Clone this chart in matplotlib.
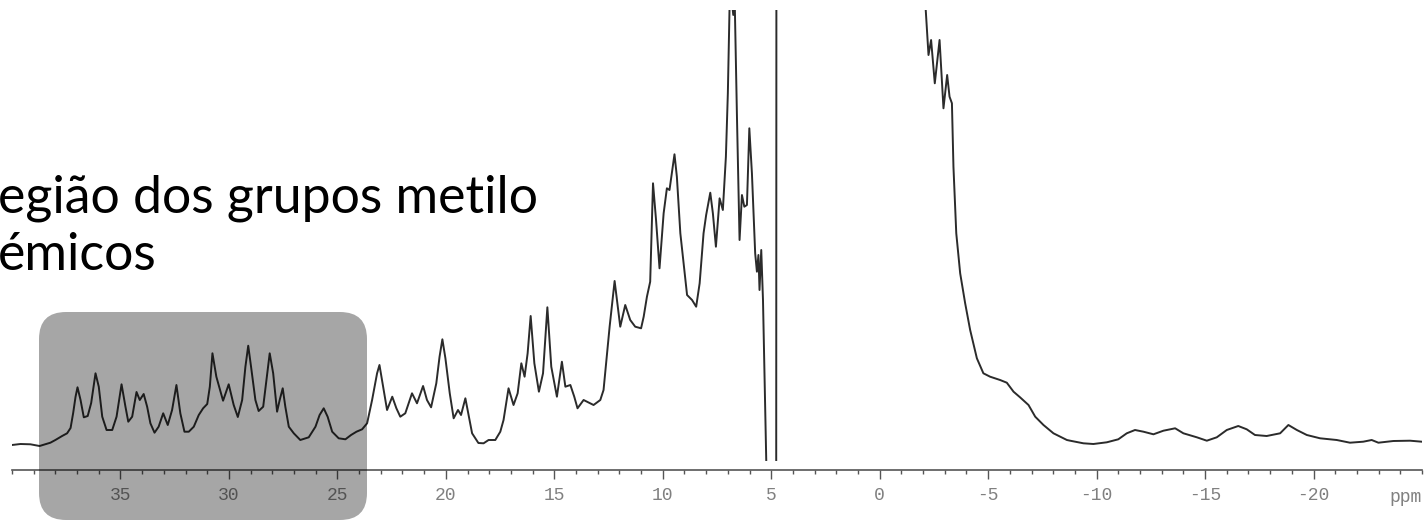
import matplotlib
matplotlib.use("Agg")
import matplotlib.pyplot as plt
from matplotlib.patches import FancyBboxPatch
from matplotlib.ticker import MultipleLocator
from matplotlib.transforms import IdentityTransform

nan = float("nan")

# chemical shift (ppm) and intensity (arbitrary units)
ppm = [40.0, 39.61, 39.15, 38.73, 38.23, 38.0, 37.69, 37.46, 37.3, 37.18, 37.07, 36.98,
       36.84, 36.69, 36.51, 36.35, 36.15, 36.0, 35.84, 35.64, 35.38, 35.18, 34.95, 34.77,
       34.64, 34.46, 34.26, 34.11, 33.93, 33.77, 33.62, 33.43, 33.24, 33.03, 32.82, 32.62,
       32.42, 32.24, 32.05, 31.85, 31.62, 31.39, 31.19, 31.0, 30.88, 30.76, 30.58, 30.27,
       30.01, 29.78, 29.59, 29.39, 29.24, 29.11, 28.98, 28.78, 28.63, 28.42, 28.27, 28.12,
       27.96, 27.78, 27.66, 27.52, 27.4, 27.24, 27.01, 26.71, 26.32, 26.01, 25.82, 25.63,
       25.45, 25.24, 24.94, 24.63, 24.37, 24.12, 23.86, 23.63, 23.4, 23.17, 23.06, 22.89,
       22.71, 22.47, 22.28, 22.1, 21.87, 21.56, 21.33, 21.05, 20.87, 20.68, 20.44, 20.29,
       20.16, 20.02, 19.82, 19.64, 19.44, 19.3, 19.1, 18.95, 18.79, 18.5, 18.26, 18.03,
       17.72, 17.49, 17.34, 17.11, 16.88, 16.69, 16.52, 16.37, 16.23, 16.09, 15.92, 15.71,
       15.52, 15.32, 15.14, 14.88, 14.65, 14.49, 14.26, 14.08, 13.93, 13.65, 13.19, 12.88,
       12.73, 12.45, 12.22, 11.96, 11.73, 11.5, 11.27, 11.0, 10.88, 10.73, 10.58, 10.45,
       10.31, 10.15, 9.96, 9.81, 9.69, 9.46, 9.35, 9.19, 8.88, 8.65, 8.46, 8.3,
       8.12, 8.0, 7.81, 7.69, 7.55, 7.38, 7.23, 7.09, 7.0, 6.91, 6.82, 6.75,
       6.68, 6.58, 6.46, 6.35, 6.24, 6.12, 6.01, 5.89, 5.74, 5.66, 5.59, 5.54,
       5.46, 5.38, 5.23, nan, 4.77, 4.76, -1.91, -2.1, -2.25, -2.37, -2.54, -2.76, -2.94,
       -3.11, -3.22, -3.33, -3.4, -3.53, -3.71, -3.94, -4.17, -4.48, -4.78, -5.09, -5.55,
       -5.86, -6.17, -6.47, -6.86, -7.17, -7.55, -8.01, -8.63, -8.78, -9.39, -9.85, -10.47,
       -11.0, -11.39, -11.77, -12.16, -12.62, -13.08, -13.62, -14.0, -14.62, -15.08, -15.54, -16.0,
       -16.53, -16.92, -17.3, -17.84, -18.46, -18.84, -19.23, -19.69, -20.3, -21.07, -21.68, -22.29,
       -22.68, -22.99, -23.68, -24.45, -24.99]
intensity = [25, 26, 25.7, 24, 27.3, 30, 34, 36.7, 42, 57, 73.3, 82.7,
             70, 52.7, 54, 67, 96.7, 83.3, 53.3, 40, 40, 53.3, 85.7, 63.3,
             48.3, 53.3, 78, 70, 76, 63.3, 46.7, 37.3, 43.3, 56.7, 45, 60,
             85, 56.7, 38.3, 38.3, 43.3, 55, 61.7, 66, 83.3, 116.7, 93.3, 69.3,
             85.7, 65, 53, 70, 103.3, 124.3, 103.3, 70, 59, 63.3, 90, 116.7,
             96.7, 58.3, 70, 81.7, 63.3, 43.3, 36.7, 30, 32.7, 43.3, 55, 61.7,
             53.3, 38.3, 31.7, 30.7, 35, 38.3, 40.7, 46.7, 70, 96.7, 105, 83.3,
             60, 73.3, 61.7, 53.3, 56.7, 76.7, 66.7, 84, 70, 62.7, 86.7, 113.3,
             130.7, 111.7, 76.7, 51.7, 60, 55, 71.7, 55, 36.7, 27, 26.7, 30,
             30, 38.3, 50, 81.7, 65, 76.7, 106.7, 93.3, 116.7, 154, 106.7, 78.3,
             96.7, 162.7, 103.3, 73.3, 108.3, 83.3, 85, 73.3, 61.7, 70, 65, 70,
             80, 143.3, 189, 143.3, 165, 150, 143.3, 141.7, 153.3, 173.3, 188.3, 286.7,
             250, 201.7, 256.7, 281.7, 280, 315.7, 293.3, 236.7, 175, 170, 163.3, 186.7,
             236.7, 255, 277.3, 256.7, 223.3, 271.7, 260, 313.3, 376.7, 475, 470, 455,
             465, 353.3, 230, 275, 263.3, 265, 341.7, 296.7, 216.7, 198.3, 215, 180,
             220, 170, 10, nan, 10, 600, 560, 468, 415, 430, 386.7, 430, 361.7,
             395, 373.3, 366.7, 303.3, 236.7, 196.7, 166.7, 140, 111.7, 96.7, 93.3, 90,
             87.3, 78.3, 72.7, 65, 53.3, 45, 36.7, 30, 29.3, 26.7, 26, 27.7,
             30.7, 36.7, 40, 38.3, 35.7, 39.3, 41.7, 36.7, 32.7, 29.3, 32.7, 40,
             44, 40.7, 35, 34, 36.7, 45, 40, 35, 31.7, 30, 27.3, 28.3,
             30, 27.3, 29, 29.3, 28.3]

tick_pos = [35, 30, 25, 20, 15, 10, 5, 0, -5, -10, -15, -20]
tick_labels = ["35", "30", "25", "20", "15", "10", "5", "0", "-5", "-10", "-15", "-20"]
label_lines = ["egião dos grupos metilo", "émicos"]

W, H = 1428, 522
fig = plt.figure(figsize=(W / 100, H / 100), dpi=100)
ax = fig.add_axes([12 / W, 52 / H, 1410 / W, 460 / H])

ax.plot(ppm, intensity, color="#2b2b2b", lw=1.4, solid_joinstyle="round")
ax.set_xlim(40, -25)
ax.set_ylim(0, 460)

for s in ["top", "left", "right"]:
    ax.spines[s].set_visible(False)
ax.spines["bottom"].set_color("#555555")
ax.spines["bottom"].set_linewidth(1.2)
ax.set_yticks([])
ax.xaxis.set_minor_locator(MultipleLocator(1))
ax.set_xticks(tick_pos)
ax.set_xticklabels(tick_labels, family="Liberation Mono")
ax.tick_params(axis="x", which="major", direction="out", length=6.5, width=1,
               color="#555555", pad=6, labelsize=13, labelcolor="#808080")
ax.tick_params(axis="x", which="minor", direction="out", length=3, width=1, color="#555555")

fig.text(1422 / W, 1 - 498 / H, "ppm", ha="right", va="center",
         family="Liberation Mono", fontsize=13, color="#808080")

# label text, its left part runs off the figure
fs = 32
probe = fig.text(0, 0, label_lines[0], fontsize=fs, family="Lato")
fig.canvas.draw()
w = probe.get_window_extent(fig.canvas.get_renderer()).width
probe.remove()
fs = fs * 542 / w
fig.text(-2 / W, 1 - 213 / H, label_lines[0], ha="left", va="baseline",
         fontsize=fs, family="Lato", color="black")
fig.text(-2 / W, 1 - 270 / H, label_lines[1], ha="left", va="baseline",
         fontsize=fs, family="Lato", color="black")

# shaded box over the methyl peaks
box = FancyBboxPatch((39, 2), 328, 208, boxstyle="round,pad=0,rounding_size=27",
                     transform=IdentityTransform(), facecolor="black", edgecolor="none",
                     alpha=0.35, zorder=5)
fig.add_artist(box)

fig.savefig("out.png", dpi=100)
